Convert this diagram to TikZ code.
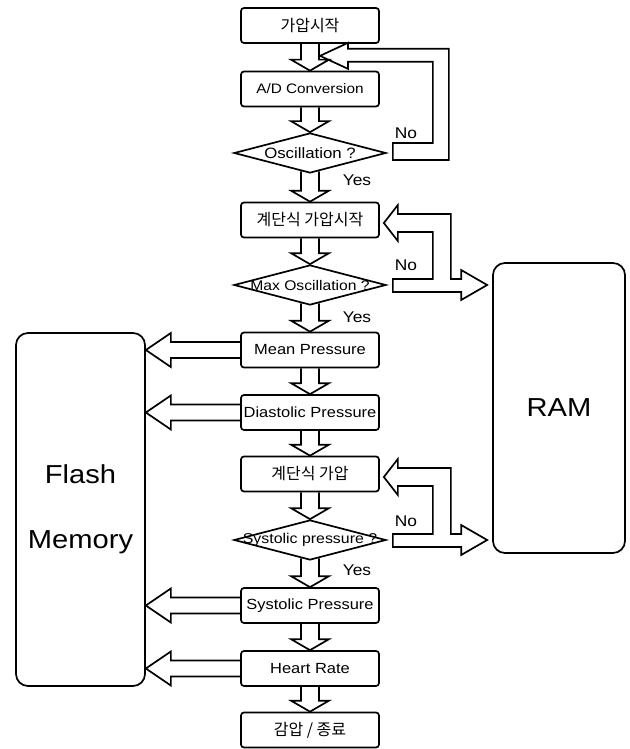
\documentclass[tikz,border=0pt]{standalone}
\usepackage{fontspec}
\setmainfont{Liberation Sans}[FakeStretch=1.12]
\newfontfamily\kr{Noto Sans CJK KR}
\usetikzlibrary{calc,shapes.geometric}

\newcommand{\ramloop}[3]{%
  \coordinate (#3a) at ($(#1.east)+(6,-6)$);
  \coordinate (#3b) at ($(#1.east)+(46,-6)$);
  \coordinate (#3n) at ($(#1.east)+(6,7)$);
  \coordinate (#3i) at ($(#1.east)+(64,-6)$);
  \coordinate (#3r) at (ram.west |- #1.east);
  \coordinate (#3tip) at ($(#2.east)+(4,3)$);
  \coordinate (#3d) at ($(#2.east)+(18,12)$);
  \coordinate (#3e) at ($(#2.east)+(18,21)$);
  \coordinate (#3f) at ($(#2.east)+(18,-15)$);
  \coordinate (#3g) at ($(#2.east)+(18,-6)$);
  \draw[fat] (#3a) -- (#3b) -- (#3b |- #3d) -- (#3d) -- (#3e) -- (#3tip) -- (#3f) -- (#3g)
    -- (#3i |- #3g) -- (#3i) -- ($(#3r)+(-31,-6)$) -- ($(#3r)+(-31,-15)$) -- ($(#3r)+(-5,0)$)
    -- ($(#3r)+(-31,15)$) -- ($(#3r)+(-31,7)$) -- (#3n) -- cycle;
}

\begin{document}
\begin{tikzpicture}[x=1pt,y=-1pt,
  box/.style={draw, line width=1.7pt, rounded corners=3pt, minimum width=138pt,
    minimum height=35pt, inner sep=0pt, font=\fontsize{14.7}{16}\selectfont},
  kbox/.style={box, font=\kr\fontsize{16}{18}\selectfont},
  dec/.style={draw, shape=diamond, line width=1.7pt, minimum width=152pt,
    minimum height=40pt, inner sep=0pt, font=\fontsize{15}{16}\selectfont},
  mem/.style={draw, line width=1.7pt, rounded corners=12pt, inner sep=0pt,
    align=center, font=\fontsize{26}{65}\selectfont},
  lbl/.style={inner sep=0pt, font=\fontsize{15.5}{17}\selectfont},
  fat/.style={line width=1.7pt, line join=miter},
  fatdown/.style={to path={let \p1=(\tikztostart), \p2=(\tikztotarget) in
    (\x1-9pt,\y1) -- (\x1-9pt,\y2+11pt) -- (\x1-19pt,\y2+11pt) -- (\x1,\y2)
    -- (\x1+19pt,\y2+11pt) -- (\x1+9pt,\y2+11pt) -- (\x1+9pt,\y1)}},
  fatleft/.style={to path={let \p1=(\tikztostart), \p2=(\tikztotarget) in
    (\x1,\y1+8pt) -- (\x2+25pt,\y1+8pt) -- (\x2+25pt,\y1+17pt) -- (\x2,\y1)
    -- (\x2+25pt,\y1-17pt) -- (\x2+25pt,\y1-8pt) -- (\x1,\y1-8pt)}}
]
\useasboundingbox (0,0) rectangle (629,749);

\node[kbox] (start) at (310,25.5) {가압시작};
\node[box, font=\fontsize{13.7}{15}\selectfont] (ad) at (310,89) {A/D Conversion};
\node[dec] (osc) at (310,153) {\makebox[0pt]{Oscillation ?}};
\node[kbox] (step1) at (310,220) {계단식 가압시작};
\node[dec, font=\fontsize{14}{15}\selectfont] (mo) at (310,285) {\makebox[0pt]{Max Oscillation ?}};
\node[box] (mean) at (310,350) {Mean Pressure};
\node[box] (dia) at (310,412.5) {Diastolic Pressure};
\node[kbox] (step2) at (310,474) {계단식 가압};
\node[dec, font=\fontsize{14.2}{15}\selectfont] (sys) at (310,540) {\makebox[0pt]{Systolic pressure ?}};
\node[box] (sysp) at (310,605.5) {Systolic Pressure};
\node[box] (hr) at (310,668.5) {Heart Rate};
\node[kbox] (fin) at (310,730) {감압 / 종료};

\node[mem, minimum width=129pt, minimum height=353pt] (flash) at (80.5,509.5) {Flash\\Memory};
\node[mem, minimum width=132pt, minimum height=290pt] (ram) at (559,408) {\raisebox{-9pt}{RAM}};

% vertical fat arrows
\foreach \a/\b in {start/ad, ad/osc, step1/mo, mean/dia, dia/step2, step2/sys, sysp/hr, hr/fin}
  \draw[fat] (\a.south) to[fatdown] (\b.north);
\foreach \a/\b in {osc/step1, mo/mean, sys/sysp}
  \draw[fat] ($(\a.south)+(0,-2.5)$) to[fatdown] (\b.north);

% arrows to flash memory
\foreach \a in {mean, dia, sysp, hr}
  \draw[fat] (\a.west) to[fatleft] (flash.east |- \a.west);

% loop: Oscillation ? -- No --> A/D
\coordinate (l1a) at ($(osc.east)+(6,7)$);
\coordinate (l1b) at ($(osc.east)+(62,7)$);
\coordinate (l1k) at ($(osc.east)+(6,-10)$);
\coordinate (l1j) at ($(osc.east)+(46,-10)$);
\coordinate (l1tip) at ($(start.south)+(10,12)$);
\coordinate (l1d) at ($(start.south)+(38,5)$);
\coordinate (l1e) at ($(start.south)+(38,-1)$);
\coordinate (l1g) at ($(start.south)+(38,25)$);
\coordinate (l1h) at ($(start.south)+(38,18)$);
\draw[fat] (l1a) -- (l1b) -- (l1b |- l1d) -- (l1d) -- (l1e) -- (l1tip) -- (l1g) -- (l1h)
  -- (l1j |- l1h) -- (l1j) -- (l1k) -- cycle;

% loops to RAM
\ramloop{mo}{step1}{m}
\ramloop{sys}{step2}{s}

% labels
\node[lbl] (no1) at ($(osc.east)+(19,-20)$) {No};
\node[lbl] (no2) at ($(mo.east)+(19,-20)$) {No};
\node[lbl] (no3) at ($(sys.east)+(19,-19)$) {No};
\node[lbl] (yes1) at ($(osc.south)+(47,6)$) {Yes};
\node[lbl] (yes2) at ($(mo.south)+(47,11)$) {Yes};
\node[lbl] (yes3) at ($(sys.south)+(47,9)$) {Yes};
\end{tikzpicture}
\end{document}
